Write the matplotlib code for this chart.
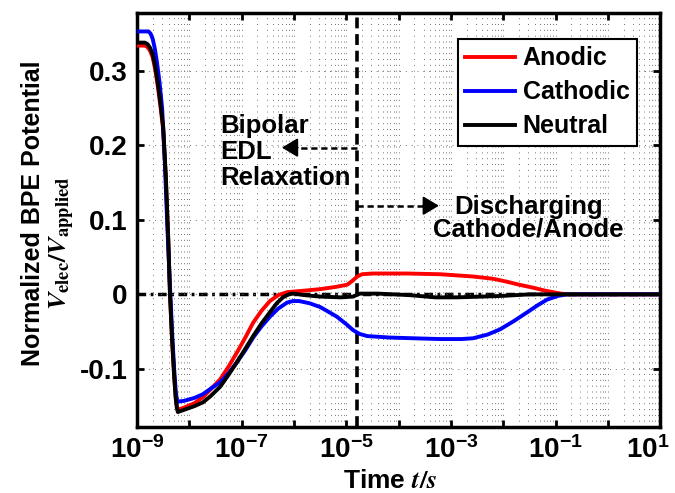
import numpy as np
import matplotlib
matplotlib.use('Agg')
import matplotlib.pyplot as plt
import matplotlib.transforms as mtransforms
from matplotlib.ticker import FixedLocator, NullFormatter

plt.rcParams['font.family'] = ['Liberation Sans', 'DejaVu Sans']
plt.rcParams['font.weight'] = 'bold'
plt.rcParams['axes.unicode_minus'] = False
plt.rcParams['mathtext.fontset'] = 'custom'
plt.rcParams['mathtext.rm'] = 'Liberation Sans:bold'
plt.rcParams['mathtext.bf'] = 'Liberation Sans:bold'
plt.rcParams['mathtext.it'] = 'Liberation Sans:bold:italic'

# time is stored as log10(t / s)
logt_anodic = [-9.0, -8.85, -8.80, -8.75, -8.70, -8.65, -8.60, -8.55, -8.50, -8.45, -8.40, -8.37,
               -8.33, -8.29, -8.26, -8.24, -8.22, -8.1, -7.9, -7.74, -7.6, -7.41, -7.25, -7.09,
               -6.93, -6.78, -6.62, -6.46, -6.3, -6.13, -5.80, -5.50, -5.2, -4.98, -4.87, -4.79,
               -4.70, -4.5, -3.84, -3.2, -2.58, -2.2, -1.93, -1.7, -1.43, -1.2, -1.05, -0.9,
               -0.78, 1.0]
anodic = [0.334, 0.334, 0.332, 0.327, 0.318, 0.301, 0.278, 0.251, 0.221, 0.156, 0.066, 0.0,
          -0.062, -0.110, -0.138, -0.149, -0.155, -0.152, -0.146, -0.138, -0.128, -0.114, -0.097,
          -0.078, -0.058, -0.038, -0.022, -0.009, -0.001, 0.003, 0.005, 0.007, 0.010, 0.013, 0.019,
          0.024, 0.027, 0.028, 0.028, 0.027, 0.024, 0.021, 0.017, 0.013, 0.009, 0.005, 0.003, 0.001,
          0.0, 0.0]

logt_cathodic = [-9.0, -8.78, -8.74, -8.70, -8.66, -8.62, -8.57, -8.52, -8.47, -8.42, -8.37,
                 -8.33, -8.29, -8.26, -8.24, -8.22, -8.1, -7.9, -7.74, -7.6, -7.41, -7.25, -7.09,
                 -6.93, -6.78, -6.62, -6.46, -6.3, -6.13, -6.02, -5.90, -5.70, -5.50, -5.35,
                 -5.18, -5.0, -4.87, -4.75, -4.60, -4.16, -3.7, -3.21, -2.8, -2.58, -2.3, -2.06,
                 -1.8, -1.54, -1.35, -1.16, -0.95, -0.78, 1.0]
cathodic = [0.353, 0.353, 0.350, 0.343, 0.330, 0.312, 0.285, 0.250, 0.180, 0.090, 0.010,
            -0.050, -0.100, -0.130, -0.140, -0.144, -0.143, -0.139, -0.134, -0.127, -0.118, -0.106,
            -0.091, -0.075, -0.058, -0.043, -0.030, -0.019, -0.011, -0.009, -0.009, -0.012, -0.017,
            -0.023, -0.030, -0.040, -0.048, -0.053, -0.056, -0.058, -0.059, -0.060, -0.060, -0.059,
            -0.054, -0.047, -0.036, -0.024, -0.015, -0.007, -0.002, 0.0, 0.0]

logt_neutral = [-9.0, -8.85, -8.80, -8.75, -8.70, -8.65, -8.60, -8.55, -8.50, -8.45, -8.40, -8.37,
                -8.33, -8.29, -8.26, -8.24, -8.22, -8.1, -7.9, -7.74, -7.6, -7.41, -7.25, -7.09,
                -6.93, -6.78, -6.62, -6.46, -6.33, -6.21, -6.10, -6.02, -5.8, -5.5, -5.1, -4.87,
                -4.74, -4.4, -3.8, -3.3, -2.88, -2.4, -2.0, -1.5, 1.0]
neutral = [0.338, 0.338, 0.336, 0.331, 0.322, 0.305, 0.282, 0.255, 0.225, 0.160, 0.070, 0.0,
           -0.060, -0.110, -0.140, -0.152, -0.158, -0.155, -0.150, -0.145, -0.137, -0.124, -0.108,
           -0.091, -0.073, -0.056, -0.039, -0.024, -0.012, -0.004, 0.0, 0.001, -0.001, -0.003,
           -0.004, -0.003, 0.001, 0.001, -0.001, -0.004, -0.004, -0.003, -0.002, 0.0, 0.0]

logt_split = -4.79          # boundary between the two regimes
arrow_left_tip = -6.23
arrow_right_tip = -3.23

fig = plt.figure(figsize=(6.75, 4.93), dpi=100)
ax = fig.add_axes([0.203, 0.134, 0.775, 0.840])

ax.axhline(0, color='k', lw=2.5, linestyle=(0, (2.5, 1.3, 0.8, 1.3)), zorder=1)
ax.plot(10**np.array(logt_anodic), anodic, color='#ff0000', lw=2.8, label='Anodic', zorder=3)
ax.plot(10**np.array(logt_cathodic), cathodic, color='#0000ff', lw=2.8, label='Cathodic', zorder=3)
ax.plot(10**np.array(logt_neutral), neutral, color='k', lw=2.8, label='Neutral', zorder=4)
ax.axvline(10**logt_split, color='k', lw=2.6, linestyle=(0, (3, 1.6)), zorder=2)

ax.set_xscale('log')
ax.set_xlim(1e-9, 1e1)
ax.set_ylim(-0.178, 0.378)

decades = np.arange(-9, 2)
ax.xaxis.set_major_locator(FixedLocator(10.0**decades))
ax.set_xticklabels([r'$10^{%d}$' % d if d % 2 else '' for d in decades])
minor = [m * 10.0**d for d in decades[:-1] for m in range(2, 10)]
ax.xaxis.set_minor_locator(FixedLocator(minor))
ax.xaxis.set_minor_formatter(NullFormatter())

ax.set_yticks([-0.1, 0, 0.1, 0.2, 0.3])
ax.set_yticklabels(['-0.1', '0', '0.1', '0.2', '0.3'])

ax.tick_params(which='major', direction='in', length=5, width=2, top=True, right=True,
               labelsize=20, pad=7)
ax.tick_params(which='minor', length=0)
for s in ax.spines.values():
    s.set_linewidth(2.5)

# the last label sits a little left of its tick, as in the original
last = ax.get_xticklabels()[-1]
last.set_transform(last.get_transform() +
                   mtransforms.ScaledTranslation(-12 / 100, 0, fig.dpi_scale_trans))

ax.grid(which='major', linestyle=(0, (1, 5)), color='0.45', lw=0.7)
ax.grid(which='minor', axis='x', linestyle=(0, (1, 5)), color='0.45', lw=0.7)

leg = ax.legend(loc='upper right', bbox_to_anchor=(0.956, 0.937), borderaxespad=0,
                fontsize=18, fancybox=False, framealpha=1, edgecolor='k',
                handlelength=2.0, handletextpad=0.3, borderpad=0.3, labelspacing=0.4)
leg.get_frame().set_linewidth(1.5)
leg.set_zorder(5)

# annotations
ax.plot([10**logt_split, 10**(arrow_left_tip + 0.2)], [0.197, 0.197], color='k', lw=1.8,
        linestyle=(0, (2.5, 1.5)))
ax.annotate('', xy=(10**arrow_left_tip, 0.197), xytext=(10**(arrow_left_tip + 0.3), 0.197),
            arrowprops=dict(arrowstyle='-|>,head_length=0.5,head_width=0.3', color='k', lw=1.5,
                            mutation_scale=19, shrinkA=0, shrinkB=0))
ax.plot([10**logt_split, 10**(arrow_right_tip - 0.2)], [0.119, 0.119], color='k', lw=1.8,
        linestyle=(0, (2.5, 1.5)))
ax.annotate('', xy=(10**arrow_right_tip, 0.119), xytext=(10**(arrow_right_tip - 0.3), 0.119),
            arrowprops=dict(arrowstyle='-|>,head_length=0.5,head_width=0.3', color='k', lw=1.5,
                            mutation_scale=19, shrinkA=0, shrinkB=0))

ax.text(10**-7.40, 0.191, 'Bipolar\nEDL\nRelaxation', fontsize=18.5, ha='left', va='center',
        linespacing=1.1)
ax.text(10**-1.52, 0.102, 'Discharging\nCathode/Anode', fontsize=18.5, ha='center', va='center',
        linespacing=0.95)

# axis labels
fig.text(33 / 675, 1 - 213 / 493, 'Normalized BPE Potential', rotation=90, fontsize=18,
         ha='center', va='center')
t = fig.text(62 / 675, 1 - 243 / 493, r'$V_{\mathrm{elec}}/V_{\mathrm{applied}}$', rotation=90,
             fontsize=19, ha='center', va='center')
t.set_math_fontfamily('stix')
t = fig.text(390 / 675, 1 - 481 / 493, r'Time $t/s$', fontsize=19, ha='center', va='center')
t.set_math_fontfamily('stix')

fig.savefig('out.png', dpi=100)
